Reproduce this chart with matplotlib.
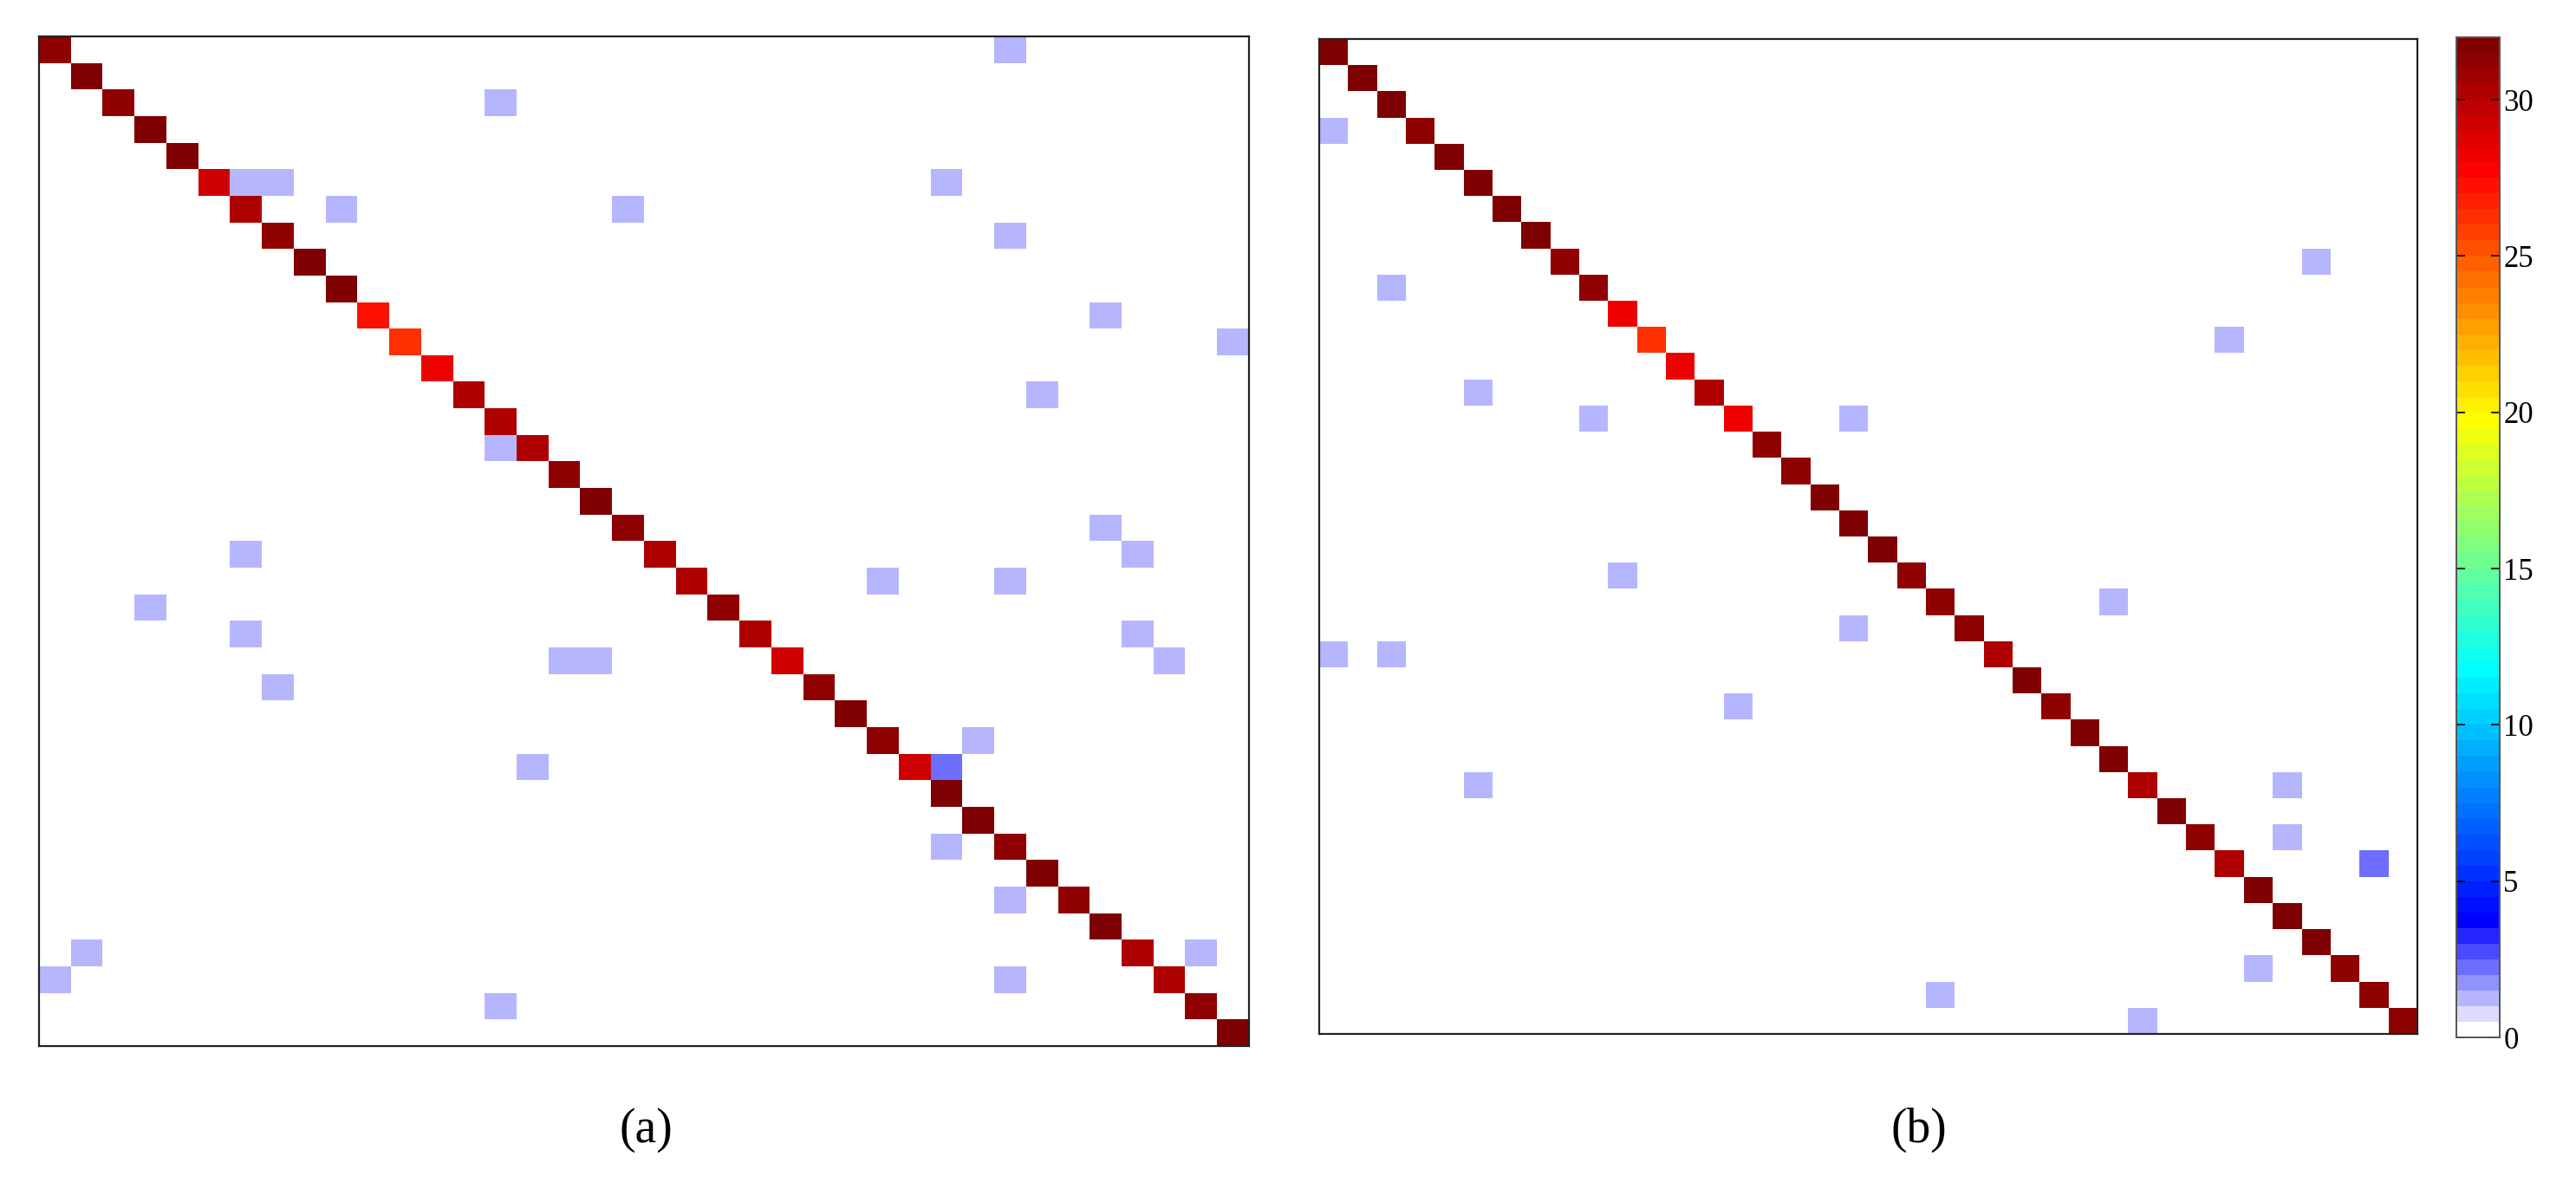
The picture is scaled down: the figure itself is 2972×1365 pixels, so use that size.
import numpy as np
import matplotlib
matplotlib.use("Agg")
import matplotlib.pyplot as plt
from matplotlib.colors import ListedColormap

# ---------------- data ----------------
N_CLASSES = 38
VMIN, VMAX = 0, 32
cbar_ticks = [0, 5, 10, 15, 20, 25, 30]
panel_labels = ["(a)", "(b)"]

# panel (a): diagonal counts and off-diagonal confusions
a_diag = [31, 32, 31, 32, 32, 29, 30, 31, 32, 32, 27, 26, 28, 30, 30, 30, 31, 32, 31,
          30, 30, 31, 30, 29, 31, 32, 31, 29, 32, 32, 31, 32, 31, 32, 30, 30, 31, 32]
a_off_rows = [0, 2, 5, 5, 5, 6, 6, 7, 10, 11, 13, 15, 18, 19, 19, 20, 20, 21, 22, 22,
              23, 23, 23, 24, 26, 27, 27, 30, 32, 34, 34, 35, 35, 36]
a_off_cols = [30, 14, 6, 7, 28, 9, 18, 30, 33, 37, 31, 14, 33, 6, 34, 26, 30, 3, 6, 34,
              16, 17, 35, 7, 29, 15, 28, 28, 30, 1, 36, 0, 30, 14]
a_off_vals = [1, 1, 1, 1, 1, 1, 1, 1, 1, 1, 1, 1, 1, 1, 1, 1, 1, 1, 1, 1,
              1, 1, 1, 1, 1, 1, 2, 1, 1, 1, 1, 1, 1, 1]

# panel (b)
b_diag = [32, 32, 32, 31, 32, 32, 32, 32, 31, 31, 28, 26, 28, 30, 28, 31, 31, 32, 32,
          32, 31, 31, 31, 30, 32, 31, 32, 32, 30, 32, 31, 30, 32, 32, 32, 31, 31, 31]
b_off_rows = [3, 8, 9, 11, 13, 14, 14, 20, 21, 22, 23, 23, 25, 28, 28, 30, 31, 35, 36, 37]
b_off_cols = [0, 34, 2, 31, 5, 9, 18, 10, 27, 18, 0, 2, 14, 5, 33, 33, 36, 32, 21, 28]
b_off_vals = [1, 1, 1, 1, 1, 1, 1, 1, 1, 1, 1, 1, 1, 1, 1, 1, 2, 1, 1, 1]


def build_matrix(diag, rows, cols, vals):
    m = np.zeros((N_CLASSES, N_CLASSES))
    m[np.arange(N_CLASSES), np.arange(N_CLASSES)] = diag
    m[rows, cols] = vals
    return m


mat_a = build_matrix(a_diag, a_off_rows, a_off_cols, a_off_vals)
mat_b = build_matrix(b_diag, b_off_rows, b_off_cols, b_off_vals)


# ---------------- colormap: MATLAB-like jet(64), low end white->blue ----------------
def matlab_jet(m=64):
    n = int(np.ceil(m / 4))
    u = np.concatenate([np.arange(1, n + 1) / n, np.ones(n - 1), np.arange(n, 0, -1) / n])
    g = int(np.ceil(n / 2)) - (1 if m % 4 == 1 else 0) + np.arange(1, len(u) + 1)
    r = g + n
    b = g - n
    J = np.zeros((m, 3))
    for ch, idx in ((0, r), (1, g), (2, b)):
        ok = (idx >= 1) & (idx <= m)
        J[idx[ok] - 1, ch] = u[ok]
    return J


cols = matlab_jet(64)
n_low = 8
for k in range(n_low):
    f = 1 - k / (n_low - 1)
    cols[k] = [f, f, 1.0]
cmap = ListedColormap(cols)

# ---------------- figure ----------------
plt.rcParams['font.family'] = ['Liberation Serif', 'DejaVu Serif']
W, H = 2972, 1365
fig = plt.figure(figsize=(W / 100, H / 100), dpi=100)


def frac(x0, y0, x1, y1):
    return [x0 / W, 1 - y1 / H, (x1 - x0) / W, (y1 - y0) / H]


ax_a = fig.add_axes(frac(45, 42, 1441, 1207))
ax_b = fig.add_axes(frac(1522, 45, 2789, 1193))
cax = fig.add_axes(frac(2834, 43, 2884, 1197))

for ax, mat in ((ax_a, mat_a), (ax_b, mat_b)):
    im = ax.imshow(mat, cmap=cmap, vmin=VMIN, vmax=VMAX, interpolation='nearest',
                   aspect='auto', extent=(0, N_CLASSES, N_CLASSES, 0))
    ax.set_xticks([])
    ax.set_yticks([])
    for sp in ax.spines.values():
        sp.set_linewidth(1.6)
        sp.set_color('#222222')

cb = fig.colorbar(im, cax=cax, ticks=cbar_ticks)
cax.tick_params(direction='in', left=True, right=True, length=7, width=1.2,
                labelsize=25, pad=3)
cb.outline.set_linewidth(1.4)
cb.outline.set_edgecolor('#555555')

fig.text(745 / W, 1 - 1304 / H, panel_labels[0], ha='center', va='center', fontsize=40)
fig.text(2214 / W, 1 - 1304 / H, panel_labels[1], ha='center', va='center', fontsize=40)

fig.savefig("out.png", dpi=100, facecolor='white')
